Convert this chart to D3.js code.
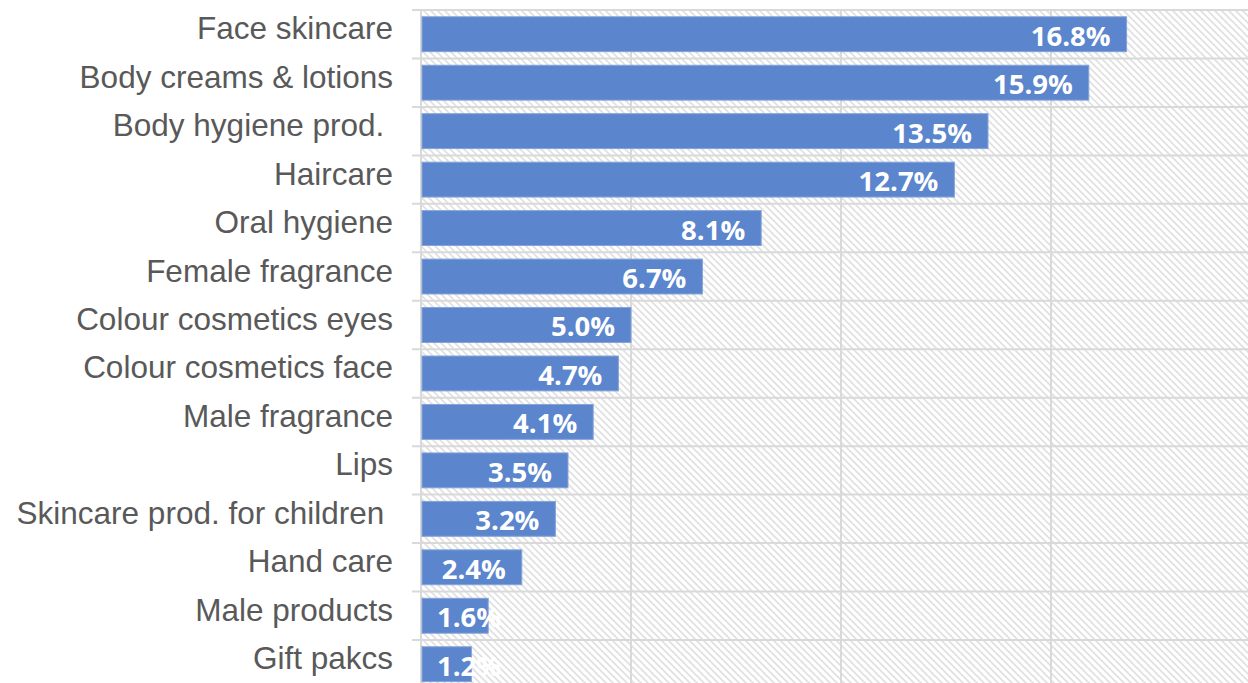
<!DOCTYPE html>
<html>
<head>
<meta charset="utf-8">
<script src="https://cdn.jsdelivr.net/npm/d3@7"></script>
<style>
  body { margin: 0; background: #fff; }
  svg { display: block; }
</style>
</head>
<body>
<script>
var width = 1248,
    height = 683;

var categories = ['Face skincare', 'Body creams & lotions', 'Body hygiene prod. ', 'Haircare',
  'Oral hygiene', 'Female fragrance', 'Colour cosmetics eyes', 'Colour cosmetics face',
  'Male fragrance', 'Lips', 'Skincare prod. for children ', 'Hand care', 'Male products', 'Gift pakcs'];
var shares = [16.8, 15.9, 13.5, 12.7, 8.1, 6.7, 5.0, 4.7, 4.1, 3.5, 3.2, 2.4, 1.6, 1.2];
var xTicks = [0, 5, 10, 15, 20];

var plotLeft = 421, plotTop = 10, step = 48.46;

var svg = d3.select('body')
  .append('svg')
    .attr('width', width)
    .attr('height', height);

var x = d3.scaleLinear().domain([0, 20]).range([plotLeft, plotLeft + 840]);
var y = d3.scaleBand().domain(categories)
    .range([plotTop, plotTop + step * categories.length])
    .paddingInner(0.28).paddingOuter(0.14);

// hatched plot background
var pat = svg.append('defs').append('pattern')
    .attr('id', 'hatch')
    .attr('patternUnits', 'userSpaceOnUse')
    .attr('width', 7).attr('height', 7);
pat.append('rect').attr('width', 7).attr('height', 7).attr('fill', '#fff');
pat.append('path')
    .attr('d', 'M-2,-2 L9,9 M-2,5 L2,9 M5,-2 L9,2')
    .attr('stroke', '#e0e0e0')
    .attr('stroke-width', 1.6);

svg.append('rect')
    .attr('x', plotLeft).attr('y', plotTop)
    .attr('width', width - plotLeft).attr('height', height - plotTop)
    .attr('fill', 'url(#hatch)');

// vertical gridlines
svg.selectAll('line.vgrid')
    .data(xTicks).enter()
  .append('line')
    .attr('class', 'vgrid')
    .attr('x1', function(d){ return x(d); })
    .attr('x2', function(d){ return x(d); })
    .attr('y1', plotTop).attr('y2', height)
    .attr('stroke', '#d9d9d9')
    .attr('stroke-width', 2);

// horizontal category boundaries (with little ticks to the left)
var bounds = d3.range(categories.length + 1).map(function(i){ return plotTop + i * step; });
svg.selectAll('line.hgrid')
    .data(bounds).enter()
  .append('line')
    .attr('class', 'hgrid')
    .attr('x1', plotLeft - 9).attr('x2', width)
    .attr('y1', function(d){ return d; })
    .attr('y2', function(d){ return d; })
    .attr('stroke', '#d9d9d9')
    .attr('stroke-width', 2);

// bars
svg.selectAll('rect.bar')
    .data(shares).enter()
  .append('rect')
    .attr('class', 'bar')
    .attr('x', x(0) + 1)
    .attr('y', function(d, i){ return y(categories[i]); })
    .attr('width', function(d){ return x(d) - x(0) - 1; })
    .attr('height', y.bandwidth())
    .attr('fill', '#5b85cc')
    .attr('stroke', '#86a4da')
    .attr('stroke-width', 1);

// category labels
svg.selectAll('text.cat')
    .data(categories).enter()
  .append('text')
    .attr('class', 'cat')
    .attr('x', 393)
    .attr('y', function(d){ return y(d) + y.bandwidth() / 2 - 6; })
    .attr('text-anchor', 'end')
    .attr('dominant-baseline', 'central')
    .style('white-space', 'pre')
    .attr('font-family', 'Liberation Sans, Arial, sans-serif')
    .attr('font-size', 31.5)
    .attr('fill', '#595959')
    .text(function(d){ return d; });

// value labels, inside end but never left of the bar start
svg.selectAll('text.val')
    .data(shares).enter()
  .append('text')
    .attr('class', 'val')
    .attr('y', function(d, i){ return y(categories[i]) + y.bandwidth() / 2 + 1; })
    .attr('dominant-baseline', 'central')
    .attr('font-family', 'Open Sans, sans-serif')
    .attr('font-weight', 'bold')
    .attr('font-size', 27.5)
    .attr('fill', '#fff')
    .text(function(d){ return d.toFixed(1) + '%'; })
    .attr('x', function(d){
      var w = this.getComputedTextLength();
      return Math.max(x(0) + 16, x(d) - 16 - w);
    });
</script>
</body>
</html>
